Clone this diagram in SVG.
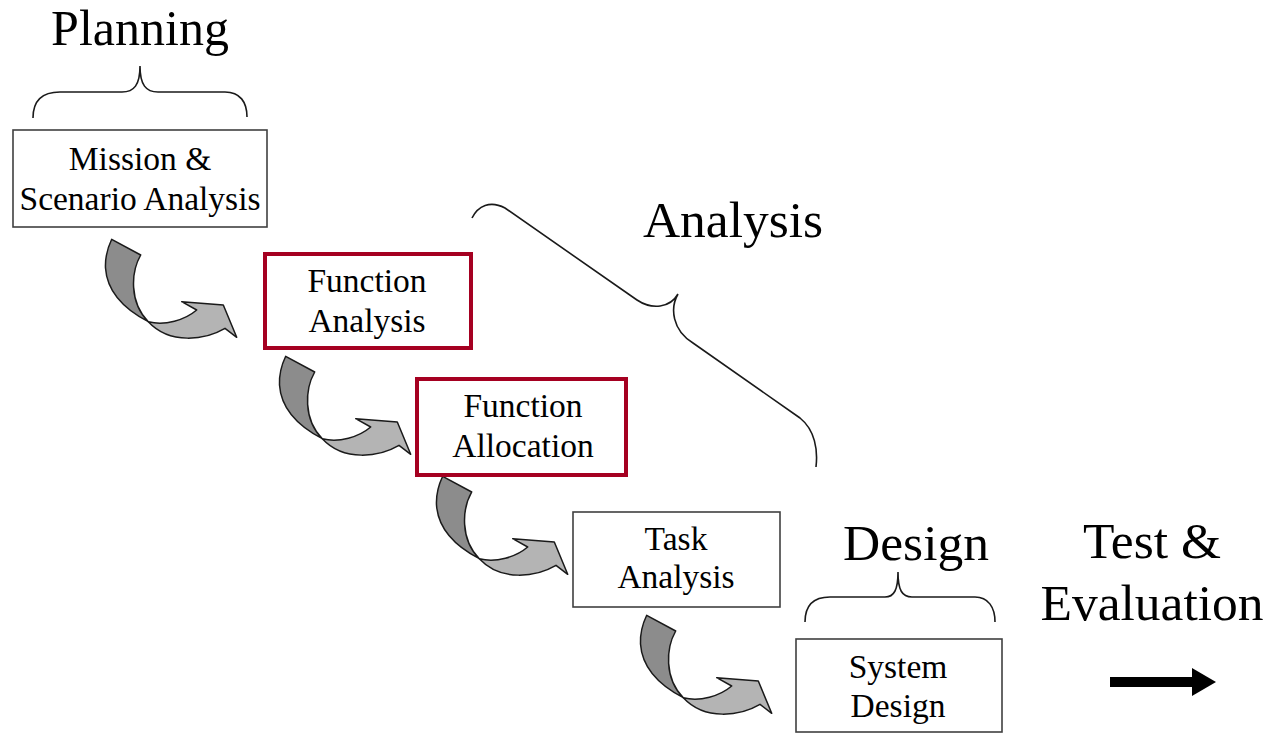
<svg xmlns="http://www.w3.org/2000/svg" width="1270" height="735" viewBox="0 0 1270 735">
<style>
  .lbl{font-family:"Liberation Serif","Times New Roman",serif;font-size:33.5px;fill:#000;text-anchor:middle}
  .big{font-family:"Liberation Serif","Times New Roman",serif;font-size:51.5px;fill:#000;text-anchor:middle}
  .box{fill:#fff;stroke:#404040;stroke-width:1.6}
  .rbox{fill:#fff;stroke:#a50021;stroke-width:4}
  .brace{fill:none;stroke:#1a1a1a;stroke-width:1.6}
  .dark{fill:#8c8c8c;stroke:#1a1a1a;stroke-width:1.5;stroke-linejoin:round}
  .light{fill:#b4b4b4;stroke:#1a1a1a;stroke-width:1.5;stroke-linejoin:round}
</style>
<defs>
  <g id="curl">
    <path class="dark" d="M111.7,239.3 L140.7,255 C131,272 129,302 148.3,321.7 C124,309 107,291 105.5,268 C105,257 108,247 111.7,239.3 Z"/>
    <path class="light" d="M148.3,321.7 C165,326 185,320 196.7,310 L181.7,301.7 L223.3,305 L236.7,337.3 L225,328.3 C205,340 170,345 148.3,321.7 Z"/>
  </g>
</defs>
<rect width="1270" height="735" fill="#fff"/>

<g id="connectors">
  <use href="#curl"/>
  <use href="#curl" transform="translate(174,117)"/>
  <use href="#curl" transform="translate(331,237)"/>
  <use href="#curl" transform="translate(535,376)"/>
  <g id="test-arrow">
    <rect x="1110" y="677" width="83" height="10" fill="#000"/>
    <polygon points="1192,668 1216,682 1192,696" fill="#000"/>
  </g>
</g>

<g id="planning">
  <text class="big" x="140" y="45" style="font-size:50px">Planning</text>
  <path class="brace" d="M33,118 C33,102 40,92 60,92 L122,92 C134,92 140,85 140,66 C140,85 146,92 158,92 L225,92 C240,92 247,102 247,117"/>
</g>

<g id="analysis-label">
  <text class="big" x="733" y="237">Analysis</text>
  <path class="brace" d="M472,218 C478,206 490,200 505,208 L637,300 C652,310 670,308 678,294 C670,308 672,330 693,343 L800,418 C815,430 818,450 816,467"/>
</g>

<g id="design-label">
  <text class="big" x="916" y="560">Design</text>
  <path class="brace" d="M805,622 C805,607 812,597 830,597 L885,597 C894,597 898,590 898,572 C898,590 902,597 912,597 L975,597 C988,597 995,607 995,622"/>
</g>

<g id="test-label">
  <text class="big" x="1152" y="558">Test &amp;</text>
  <text class="big" x="1152" y="620">Evaluation</text>
</g>

<g id="mission">
  <rect class="box" x="13" y="130" width="254" height="97"/>
  <text class="lbl" x="140" y="170">Mission &amp;</text>
  <text class="lbl" x="140" y="210">Scenario Analysis</text>
</g>

<g id="function-analysis">
  <rect class="rbox" x="265" y="254" width="206" height="94"/>
  <text class="lbl" x="367" y="292">Function</text>
  <text class="lbl" x="367" y="332">Analysis</text>
</g>

<g id="function-allocation">
  <rect class="rbox" x="417" y="379" width="209" height="96"/>
  <text class="lbl" x="523" y="417">Function</text>
  <text class="lbl" x="523" y="457">Allocation</text>
</g>

<g id="task-analysis">
  <rect class="box" x="573" y="512" width="207" height="95"/>
  <text class="lbl" x="676" y="550">Task</text>
  <text class="lbl" x="676" y="588">Analysis</text>
</g>

<g id="system-design">
  <rect class="box" x="796" y="639" width="206" height="93"/>
  <text class="lbl" x="898" y="678">System</text>
  <text class="lbl" x="898" y="717">Design</text>
</g>
</svg>
